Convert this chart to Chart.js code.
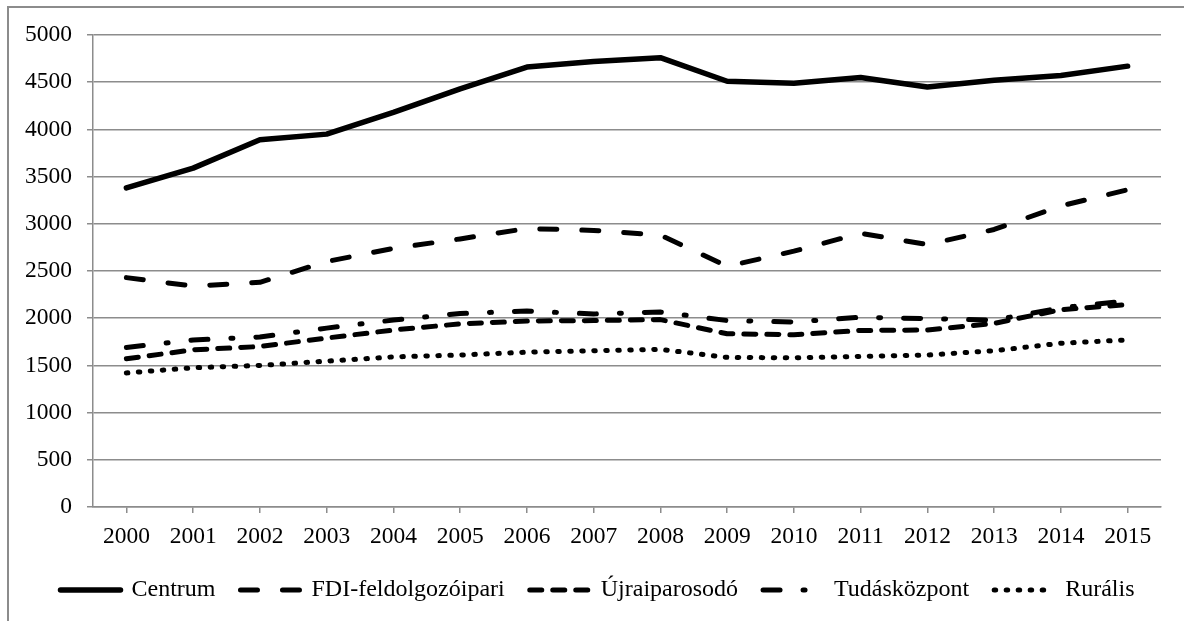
<!DOCTYPE html>
<html>
<head>
<meta charset="utf-8">
<script src="https://cdn.jsdelivr.net/npm/chart.js@4"></script>
<style>
  body { margin: 0; background: #fff; }
  #wrap { position: relative; width: 1184px; height: 621px; }
  #frame { position: absolute; left: 7px; top: 6px; width: 1177px; height: 615px;
           border-left: 2px solid #8c8c8c; border-top: 2px solid #8c8c8c; box-sizing: border-box; }
  canvas { position: absolute; left: 0; top: 0; }
</style>
</head>
<body>
<div id="wrap">
  <div id="frame"></div>
  <canvas id="chart" width="1184" height="621"></canvas>
</div>
<script>
const years = ["2000","2001","2002","2003","2004","2005","2006","2007","2008","2009","2010","2011","2012","2013","2014","2015"];

const centrum = [3380, 3590, 3890, 3950, 4180, 4430, 4660, 4720, 4760, 4510, 4490, 4550, 4450, 4520, 4570, 4670];
const fdi = [2430, 2340, 2380, 2600, 2740, 2840, 2950, 2930, 2880, 2550, 2710, 2900, 2780, 2940, 3190, 3360];
const ujra = [1570, 1665, 1700, 1790, 1875, 1940, 1970, 1975, 1985, 1835, 1825, 1870, 1875, 1945, 2090, 2145];
const tudas = [1690, 1770, 1800, 1895, 1980, 2050, 2075, 2045, 2065, 1975, 1960, 2010, 1995, 1980, 2110, 2185];
const rural = [1420, 1475, 1500, 1545, 1590, 1610, 1640, 1655, 1670, 1585, 1580, 1595, 1610, 1655, 1735, 1770];

const seriesNames = ["Centrum", "FDI-feldolgozóipari", "Újraiparosodó", "Tudásközpont", "Rurális"];

const gray = "#8c8c8c";
const family = "'Liberation Serif', 'Times New Roman', serif";
const tickFont = { family: family, size: 23.5 };
const legendSize = 24;

function line(label, data, dash, width) {
  return {
    label: label,
    data: data,
    borderColor: "#000",
    backgroundColor: "#000",
    borderWidth: width,
    borderDash: dash,
    borderCapStyle: "round",
    borderJoinStyle: "round",
    pointRadius: 0,
    tension: 0,
    fill: false
  };
}

const datasets = [
  line(seriesNames[0], centrum, [], 5.5),
  line(seriesNames[1], fdi, [17, 25], 5),
  line(seriesNames[2], ujra, [12, 11], 5),
  line(seriesNames[3], tudas, [17, 23, 2, 23], 5),
  line(seriesNames[4], rural, [1.5, 10.5], 5)
];

// legend drawn under the axis like the original (line samples + text)
const bottomLegend = {
  id: "bottomLegend",
  afterDraw(chart) {
    const ctx = chart.ctx;
    const sampleW = 66, gapText = 8, gapItem = 22, y = 590;
    ctx.save();
    ctx.font = legendSize + "px " + family;
    const widths = chart.data.datasets.map(d => ctx.measureText(d.label).width);
    let total = 0;
    widths.forEach(w => total += sampleW + gapText + w);
    total += gapItem * (widths.length - 1);
    let x = (chart.width - total) / 2 + 4;
    chart.data.datasets.forEach((d, i) => {
      ctx.beginPath();
      ctx.strokeStyle = "#000";
      ctx.lineWidth = d.borderWidth;
      ctx.lineCap = "round";
      ctx.setLineDash(d.borderDash);
      ctx.moveTo(x + 3, y);
      ctx.lineTo(x + sampleW - 3, y);
      ctx.stroke();
      ctx.setLineDash([]);
      ctx.fillStyle = "#000";
      ctx.textBaseline = "middle";
      ctx.textAlign = "left";
      ctx.fillText(d.label, x + sampleW + gapText, y);
      x += sampleW + gapText + widths[i] + gapItem;
    });
    ctx.restore();
  }
};

new Chart(document.getElementById("chart"), {
  type: "line",
  data: { labels: years, datasets: datasets },
  plugins: [bottomLegend],
  options: {
    responsive: false,
    animation: false,
    layout: { padding: { top: 35, right: 23, left: 0, bottom: 0 } },
    plugins: { legend: { display: false }, tooltip: { enabled: false } },
    scales: {
      x: {
        offset: true,
        grid: { drawOnChartArea: false, drawTicks: true, tickLength: 6, color: gray, lineWidth: 1.5 },
        border: { display: true, color: gray, width: 1.5 },
        ticks: { color: "#000", font: tickFont, padding: 10, maxRotation: 0, autoSkip: false },
        afterFit: s => { s.height = 114; }
      },
      y: {
        min: 0,
        max: 5000,
        grid: { color: gray, lineWidth: 1.5, tickLength: 6 },
        border: { display: true, color: gray, width: 1.5 },
        ticks: { stepSize: 500, color: "#000", font: tickFont, padding: 15, callback: v => String(v) },
        afterFit: s => { s.width = 93; }
      }
    }
  }
});
</script>
</body>
</html>
